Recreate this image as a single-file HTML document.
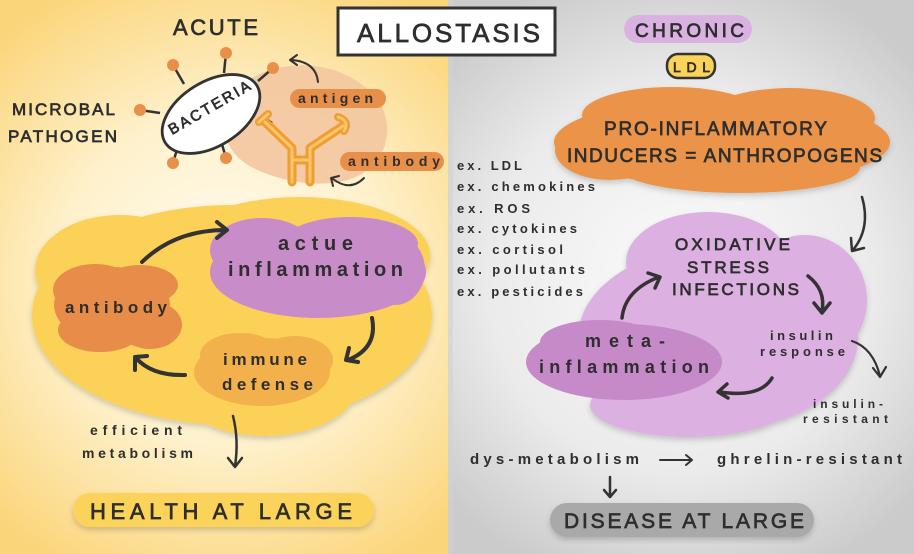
<!DOCTYPE html>
<html><head><meta charset="utf-8"><style>
html,body{margin:0;padding:0;width:914px;height:554px;overflow:hidden;background:#fff}
svg{display:block}
text{font-family:"Liberation Sans",sans-serif;fill:#2e2e2e}
.c{font-weight:normal;stroke:#2e2e2e;stroke-width:0.7}
.l{font-weight:bold}
.a{fill:none;stroke:#333;stroke-linecap:round;stroke-linejoin:round}
</style></head><body>
<svg width="914" height="554" viewBox="0 0 914 554" xmlns="http://www.w3.org/2000/svg">
<defs>
<radialGradient id="gl" gradientUnits="userSpaceOnUse" cx="225" cy="280" r="330">
<stop offset="0" stop-color="#fffcf2"/><stop offset="0.5" stop-color="#fef1cc"/><stop offset="1" stop-color="#fbd57a"/>
</radialGradient>
<radialGradient id="gr" gradientUnits="userSpaceOnUse" cx="680" cy="280" r="320">
<stop offset="0" stop-color="#fbfbfb"/><stop offset="0.6" stop-color="#ebebeb"/><stop offset="1" stop-color="#cbcbcb"/>
</radialGradient>
<filter id="sh" x="-10%" y="-10%" width="120%" height="130%"><feDropShadow dx="0" dy="3" stdDeviation="3" flood-color="#000" flood-opacity="0.18"/></filter>
</defs>
<rect x="0" y="0" width="448" height="554" fill="url(#gl)"/>
<rect x="448" y="0" width="466" height="554" fill="url(#gr)"/>
<rect x="448" y="0" width="5" height="554" fill="#d2d2d2" opacity="0.6"/>

<!-- Title -->
<rect x="338" y="8" width="217" height="47" fill="#fff" stroke="#333" stroke-width="3"/>
<text x="357" y="42" font-size="26" class="c" textLength="183" lengthAdjust="spacing">ALLOSTASIS</text>

<!-- ACUTE -->
<text x="173" y="35" font-size="22" class="c" textLength="85" lengthAdjust="spacing">ACUTE</text>
<text x="12" y="115" font-size="17" class="c" textLength="103" lengthAdjust="spacing">MICROBAL</text>
<text x="8" y="142" font-size="17" class="c" textLength="109" lengthAdjust="spacing">PATHOGEN</text>

<!-- peach blob -->
<path d="M225,130 C222,95 250,70 290,66 C330,62 360,78 378,100 C395,125 388,160 360,175 C335,188 300,185 270,175 C240,165 227,150 225,130 Z" fill="#f3c7a0" opacity="0.9"/>

<!-- bacteria spikes -->
<g stroke="#333" stroke-width="2.5">
<line x1="173" y1="65" x2="184" y2="84"/>
<line x1="226" y1="53" x2="224" y2="73"/>
<line x1="273" y1="68" x2="258" y2="81"/>
<line x1="140" y1="110" x2="160" y2="113"/>
<line x1="173" y1="163" x2="178" y2="146"/>
<line x1="226" y1="158" x2="221" y2="141"/>
<line x1="262" y1="116" x2="272" y2="123"/>
</g>
<g fill="#e8904a">
<circle cx="173" cy="65" r="6"/><circle cx="226" cy="53" r="6"/><circle cx="273" cy="68" r="6"/>
<circle cx="140" cy="110" r="6"/><circle cx="173" cy="163" r="6"/><circle cx="226" cy="158" r="6"/>
</g>
<ellipse cx="211" cy="114" rx="54" ry="32" transform="rotate(-32 211 114)" fill="#fff" stroke="#333" stroke-width="2.8"/>
<text x="0" y="0" font-size="15" class="c" transform="translate(172 135) rotate(-30)" textLength="92" lengthAdjust="spacing">BACTERIA</text>

<!-- antibody Y -->
<g fill="none" stroke-linecap="round" stroke-linejoin="round">
<path d="M265,122 L292,148 L292,182 M343,126 L310,148 L310,182 M292,160 L310,160" stroke="#ee9e32" stroke-width="9"/>
<path d="M259,122 L268,114 M338,117 Q350,121 344,131" stroke="#ee9e32" stroke-width="8"/>
<path d="M265,122 L292,148 L292,182 M343,126 L310,148 L310,182 M292,160 L310,160 M259,122 L268,114 M338,117 Q350,121 344,131" stroke="#f9c56a" stroke-width="3"/>
</g>

<!-- antigen / antibody pills -->
<rect x="290" y="89" width="96" height="19" rx="9.5" fill="#e8904a"/>
<text x="298" y="103" font-size="14" class="l" textLength="75" lengthAdjust="spacing">antigen</text>
<rect x="340" y="152" width="104" height="19" rx="9.5" fill="#e8904a"/>
<text x="348" y="166" font-size="14" class="l" textLength="92" lengthAdjust="spacing">antibody</text>
<path class="a" stroke-width="2" d="M318,82 Q316,62 292,60 M297,55 L290,60 L297,65"/>
<path class="a" stroke-width="2" d="M364,178 Q350,192 333,179 M333,186 L331,178 L339,176"/>

<!-- big yellow blob -->
<g fill="#fcd158" filter="url(#sh)">
<ellipse cx="232" cy="315" rx="200" ry="110"/>
<ellipse cx="300" cy="255" rx="130" ry="58"/>
<ellipse cx="265" cy="380" rx="95" ry="56"/>
<ellipse cx="120" cy="270" rx="85" ry="55"/>
</g>
<!-- actue inflammation -->
<g fill="#c88cc8">
<ellipse cx="318" cy="272" rx="108" ry="46"/>
<ellipse cx="262" cy="250" rx="52" ry="32"/>
<ellipse cx="350" cy="244" rx="68" ry="27"/>
<ellipse cx="395" cy="270" rx="30" ry="35"/>
</g>
<text x="278" y="250" font-size="20" class="l" textLength="75" lengthAdjust="spacing">actue</text>
<text x="228" y="276" font-size="20" class="l" textLength="175" lengthAdjust="spacing">inflammation</text>
<!-- antibody cloud -->
<g fill="#e88c4a">
<ellipse cx="112" cy="305" rx="58" ry="38"/>
<ellipse cx="95" cy="290" rx="42" ry="26"/>
<ellipse cx="140" cy="285" rx="38" ry="20"/>
<ellipse cx="150" cy="325" rx="32" ry="24"/>
<ellipse cx="100" cy="330" rx="42" ry="22"/>
</g>
<text x="65" y="313" font-size="17" class="l" textLength="102" lengthAdjust="spacing">antibody</text>
<!-- immune defense -->
<g fill="#f2b14a">
<ellipse cx="262" cy="372" rx="68" ry="34"/>
<ellipse cx="240" cy="355" rx="40" ry="22"/>
<ellipse cx="295" cy="360" rx="38" ry="24"/>
</g>
<text x="223" y="365" font-size="17" class="l" textLength="84" lengthAdjust="spacing">immune</text>
<text x="222" y="390" font-size="17" class="l" textLength="91" lengthAdjust="spacing">defense</text>
<!-- cycle arrows -->
<path class="a" stroke-width="4" d="M142,262 Q175,230 226,230 M217,222 L227,230 L217,238"/>
<path class="a" stroke-width="4" d="M372,318 Q378,348 348,360 M349,348 L346,360 L358,362"/>
<path class="a" stroke-width="4" d="M185,375 Q152,376 136,358 M135,370 L135,357 L147,356"/>
<path class="a" stroke-width="2.5" d="M233,416 Q239,440 235,466 M228,458 L235,467 L242,458"/>

<text x="90" y="435" font-size="14" class="l" textLength="92" lengthAdjust="spacing">efficient</text>
<text x="82" y="458" font-size="14" class="l" textLength="111" lengthAdjust="spacing">metabolism</text>

<rect x="73" y="493" width="301" height="34" rx="17" fill="#fcd35a" filter="url(#sh)"/>
<text x="90" y="519" font-size="22" class="c" textLength="262" lengthAdjust="spacing">HEALTH AT LARGE</text>

<!-- RIGHT -->
<rect x="624" y="15" width="128" height="28" rx="14" fill="#dab2e2"/>
<text x="635" y="37" font-size="19" class="c" textLength="109" lengthAdjust="spacing">CHRONIC</text>
<rect x="667" y="54" width="48" height="24" rx="11" fill="#fcd35a" stroke="#333" stroke-width="2.5"/>
<text x="673" y="72" font-size="14" class="c" textLength="37" lengthAdjust="spacing">LDL</text>

<g fill="#eb9448" filter="url(#sh)">
<ellipse cx="722" cy="142" rx="168" ry="44"/>
<ellipse cx="672" cy="115" rx="90" ry="28"/>
<ellipse cx="790" cy="118" rx="85" ry="30"/>
<ellipse cx="740" cy="168" rx="120" ry="25"/>
<ellipse cx="610" cy="150" rx="55" ry="30"/>
</g>
<text x="604" y="135" font-size="19" class="c" textLength="223" lengthAdjust="spacing">PRO-INFLAMMATORY</text>
<text x="567" y="162" font-size="19" class="c" textLength="315" lengthAdjust="spacing">INDUCERS = ANTHROPOGENS</text>

<g font-size="13" class="l">
<text x="457" y="170" textLength="65" lengthAdjust="spacing">ex. LDL</text>
<text x="457" y="191" textLength="138" lengthAdjust="spacing">ex. chemokines</text>
<text x="457" y="213" textLength="73" lengthAdjust="spacing">ex. ROS</text>
<text x="457" y="233" textLength="120" lengthAdjust="spacing">ex. cytokines</text>
<text x="457" y="254" textLength="106" lengthAdjust="spacing">ex. cortisol</text>
<text x="457" y="274" textLength="128" lengthAdjust="spacing">ex. pollutants</text>
<text x="457" y="296" textLength="126" lengthAdjust="spacing">ex. pesticides</text>
</g>

<path class="a" stroke-width="2.5" d="M862,197 Q871,228 853,250 M851,238 L852,251 L864,248"/>

<!-- light purple cloud -->
<g fill="#dcb0e0" filter="url(#sh)">
<ellipse cx="718" cy="338" rx="140" ry="92"/>
<ellipse cx="708" cy="262" rx="82" ry="50"/>
<ellipse cx="805" cy="300" rx="62" ry="65"/>
<ellipse cx="690" cy="405" rx="100" ry="32"/>
<ellipse cx="628" cy="345" rx="48" ry="35"/>
</g>
<g fill="#c68ac8">
<ellipse cx="624" cy="362" rx="98" ry="38"/>
<ellipse cx="600" cy="342" rx="60" ry="22"/>
</g>
<text x="585" y="347" font-size="18" class="l" textLength="80" lengthAdjust="spacing">meta-</text>
<text x="539" y="373" font-size="18" class="l" textLength="170" lengthAdjust="spacing">inflammation</text>

<text x="675" y="250" font-size="17" class="c" textLength="115" lengthAdjust="spacing">OXIDATIVE</text>
<text x="687" y="273" font-size="17" class="c" textLength="82" lengthAdjust="spacing">STRESS</text>
<text x="672" y="295" font-size="17" class="c" textLength="127" lengthAdjust="spacing">INFECTIONS</text>

<path class="a" stroke-width="3.5" d="M622,318 Q625,290 659,277 M648,273 L660,277 L655,288"/>
<path class="a" stroke-width="3.5" d="M808,276 Q826,290 822,311 M814,303 L822,313 L830,303"/>
<text x="770" y="340" font-size="13" class="l" textLength="63" lengthAdjust="spacing">insulin</text>
<text x="760" y="356" font-size="13" class="l" textLength="85" lengthAdjust="spacing">response</text>
<path class="a" stroke-width="2.2" d="M852,341 Q873,348 880,376 M873,368 L880,377 L886,367"/>
<path class="a" stroke-width="3.5" d="M772,378 Q760,398 720,392 M727,384 L718,392 L728,398"/>
<text x="813" y="408" font-size="12" class="l" textLength="70" lengthAdjust="spacing">insulin-</text>
<text x="803" y="423" font-size="12" class="l" textLength="85" lengthAdjust="spacing">resistant</text>

<text x="470" y="464" font-size="15" class="l" textLength="169" lengthAdjust="spacing">dys-metabolism</text>
<path class="a" stroke-width="2" d="M660,460 L692,460 M686,455 L692,460 L686,465"/>
<text x="717" y="464" font-size="15" class="l" textLength="185" lengthAdjust="spacing">ghrelin-resistant</text>
<path class="a" stroke-width="2.5" d="M610,477 L610,497 M604,490 L610,497 L616,490"/>

<rect x="550" y="503" width="264" height="34" rx="17" fill="#a9a9a9" filter="url(#sh)"/>
<text x="564" y="528" font-size="21" class="c" textLength="240" lengthAdjust="spacing">DISEASE AT LARGE</text>
</svg>
</body></html>
